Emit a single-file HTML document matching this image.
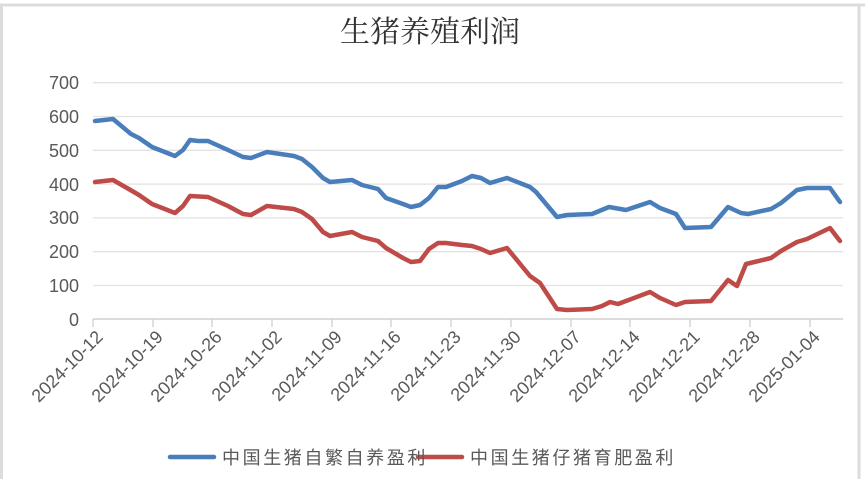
<!DOCTYPE html>
<html><head><meta charset="utf-8"><style>
html,body{margin:0;padding:0;background:#fff;}
svg{display:block;}
</style></head><body>
<svg width="865" height="479" xmlns="http://www.w3.org/2000/svg">
<rect x="0" y="0" width="865" height="479" fill="#fff"/>
<line x1="0" y1="5" x2="865" y2="5" stroke="#dcdcdc" stroke-width="3"/>
<line x1="1.5" y1="5" x2="1.5" y2="479" stroke="#dcdcdc" stroke-width="3"/>
<line x1="859" y1="5" x2="859" y2="479" stroke="#dcdcdc" stroke-width="3"/>
<text x="430" y="42" text-anchor="middle" font-family="'Liberation Serif','Noto Serif CJK SC',serif" font-size="30" fill="#333">生猪养殖利润</text>
<g stroke="#e2e2e2" stroke-width="1.3">
<line x1="93" y1="82.7" x2="843" y2="82.7"/>
<line x1="93" y1="116.5" x2="843" y2="116.5"/>
<line x1="93" y1="150.3" x2="843" y2="150.3"/>
<line x1="93" y1="184.1" x2="843" y2="184.1"/>
<line x1="93" y1="217.9" x2="843" y2="217.9"/>
<line x1="93" y1="251.7" x2="843" y2="251.7"/>
<line x1="93" y1="285.5" x2="843" y2="285.5"/>
</g>
<line x1="93" y1="319" x2="843" y2="319" stroke="#d0d0d0" stroke-width="1.5"/>
<g stroke="#d0d0d0" stroke-width="1.3">
<line x1="93" y1="319" x2="93" y2="327"/><line x1="153" y1="319" x2="153" y2="327"/><line x1="212" y1="319" x2="212" y2="327"/><line x1="272" y1="319" x2="272" y2="327"/><line x1="332" y1="319" x2="332" y2="327"/><line x1="391" y1="319" x2="391" y2="327"/><line x1="451" y1="319" x2="451" y2="327"/><line x1="511" y1="319" x2="511" y2="327"/><line x1="571" y1="319" x2="571" y2="327"/><line x1="630" y1="319" x2="630" y2="327"/><line x1="690" y1="319" x2="690" y2="327"/><line x1="750" y1="319" x2="750" y2="327"/><line x1="810" y1="319" x2="810" y2="327"/>
</g>
<g font-family="'Liberation Sans',sans-serif" font-size="18" fill="#595959" text-anchor="end">
<text x="79" y="89">700</text><text x="79" y="123">600</text><text x="79" y="157">500</text><text x="79" y="191">400</text><text x="79" y="224">300</text><text x="79" y="258">200</text><text x="79" y="292">100</text><text x="79" y="326">0</text>
</g>
<g font-family="'Liberation Sans',sans-serif" font-size="18" fill="#595959" text-anchor="end">
<text transform="translate(104,338) rotate(-45)">2024-10-12</text>
<text transform="translate(164,338) rotate(-45)">2024-10-19</text>
<text transform="translate(223,338) rotate(-45)">2024-10-26</text>
<text transform="translate(283,338) rotate(-45)">2024-11-02</text>
<text transform="translate(343,338) rotate(-45)">2024-11-09</text>
<text transform="translate(402,338) rotate(-45)">2024-11-16</text>
<text transform="translate(462,338) rotate(-45)">2024-11-23</text>
<text transform="translate(522,338) rotate(-45)">2024-11-30</text>
<text transform="translate(582,338) rotate(-45)">2024-12-07</text>
<text transform="translate(641,338) rotate(-45)">2024-12-14</text>
<text transform="translate(701,338) rotate(-45)">2024-12-21</text>
<text transform="translate(761,338) rotate(-45)">2024-12-28</text>
<text transform="translate(821,338) rotate(-45)">2025-01-04</text>
</g>
<polyline fill="none" stroke="#4a7ebb" stroke-width="4.5" stroke-linejoin="round" stroke-linecap="round" points="95,121 113,119 131,134 139,138 152,147 175,156 183,150 190,140 198,141 208,141 228,150 243,157 251,158 267,152 294,156 302,159 312,167 323,178 330,182 352,180 362,185 378,189 386,198 403,204 411,207 420,205 429,198 438,187 446,187 462,181 472,176 481,178 490,183 507,178 530,187 536,192 557,217 567,215 592,214 609,207 626,210 650,202 660,208 676,214 685,228 711,227 728,207 741,213 748,214 771,209 781,203 797,190 807,188 830,188 840,202"/>
<polyline fill="none" stroke="#be4b48" stroke-width="4.5" stroke-linejoin="round" stroke-linecap="round" points="95,182 113,180 127,188 139,195 152,204 175,213 183,206 190,196 208,197 228,206 243,214 251,215 267,206 294,209 302,212 312,219 323,232 330,236 352,232 362,237 378,241 386,248 403,258 411,262 420,261 429,249 438,243 446,243 462,245 472,246 481,249 490,253 507,248 530,276 540,283 557,309 567,310 592,309 602,306 610,302 618,304 650,292 660,298 676,305 685,302 711,301 728,280 737,286 746,264 771,258 781,251 797,242 807,239 830,228 840,241"/>
<line x1="170" y1="457" x2="214" y2="457" stroke="#4a7ebb" stroke-width="4.5" stroke-linecap="round"/>
<line x1="418" y1="457" x2="462" y2="457" stroke="#be4b48" stroke-width="4.5" stroke-linecap="round"/>
<g font-family="'Liberation Sans','Noto Sans CJK SC',sans-serif" font-size="18" fill="#595959" letter-spacing="2.6">
<text x="222" y="464">中国生猪自繁自养盈利</text>
<text x="470" y="464">中国生猪仔猪育肥盈利</text>
</g>
</svg>
</body></html>
